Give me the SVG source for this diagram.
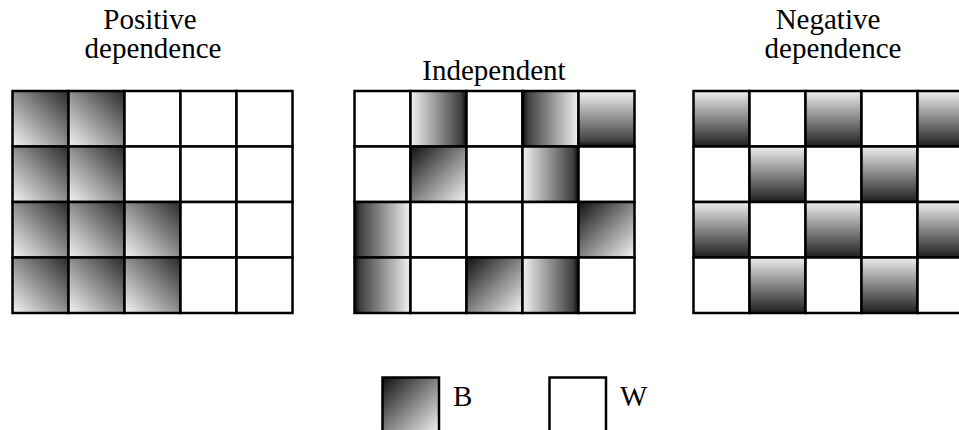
<svg xmlns="http://www.w3.org/2000/svg" width="959" height="430" viewBox="0 0 959 430">
<style>
text{font-family:'Liberation Serif','Times New Roman',Times,serif;font-size:29px;fill:#000}
.c{stroke:#000;stroke-width:2.5}
.w{fill:#fff}
</style>
<defs>
<linearGradient id="gPos" x1="1" y1="0" x2="0" y2="1"><stop offset="0" stop-color="#2a2a2a"/><stop offset="1" stop-color="#f4f4f4"/></linearGradient>
<linearGradient id="gNeg" x1="0" y1="0" x2="0" y2="1"><stop offset="0" stop-color="#eeeeee"/><stop offset="1" stop-color="#1e1e1e"/></linearGradient>
<linearGradient id="gLR" x1="0" y1="0" x2="1" y2="0"><stop offset="0" stop-color="#f2f2f2"/><stop offset="0.9" stop-color="#404040"/><stop offset="1" stop-color="#0a0a0a"/></linearGradient>
<linearGradient id="gRL" x1="0" y1="0" x2="1" y2="0"><stop offset="0" stop-color="#0a0a0a"/><stop offset="0.1" stop-color="#404040"/><stop offset="1" stop-color="#f2f2f2"/></linearGradient>
<linearGradient id="gTB" x1="0" y1="0" x2="0" y2="1"><stop offset="0" stop-color="#f2f2f2"/><stop offset="0.9" stop-color="#404040"/><stop offset="1" stop-color="#0a0a0a"/></linearGradient>
<linearGradient id="gTL" x1="0" y1="0" x2="1" y2="1"><stop offset="0" stop-color="#111111"/><stop offset="1" stop-color="#f4f4f4"/></linearGradient>
</defs>

<g id="title-positive">
<text font-family="Liberation Serif, serif" x="150" y="29" text-anchor="middle">Positive</text>
<text font-family="Liberation Serif, serif" x="153" y="58" text-anchor="middle">dependence</text>
</g>
<g id="title-independent">
<text font-family="Liberation Serif, serif" x="494" y="80" text-anchor="middle">Independent</text>
</g>
<g id="title-negative">
<text font-family="Liberation Serif, serif" x="828" y="29" text-anchor="middle">Negative</text>
<text font-family="Liberation Serif, serif" x="833" y="58" text-anchor="middle">dependence</text>
</g>

<g id="grid-positive" class="c">
<rect x="12.5" y="91" width="56" height="55.5" fill="url(#gPos)"/>
<rect x="68.5" y="91" width="56" height="55.5" fill="url(#gPos)"/>
<rect x="124.5" y="91" width="56" height="55.5" class="w"/>
<rect x="180.5" y="91" width="56" height="55.5" class="w"/>
<rect x="236.5" y="91" width="56" height="55.5" class="w"/>
<rect x="12.5" y="146.5" width="56" height="55.5" fill="url(#gPos)"/>
<rect x="68.5" y="146.5" width="56" height="55.5" fill="url(#gPos)"/>
<rect x="124.5" y="146.5" width="56" height="55.5" class="w"/>
<rect x="180.5" y="146.5" width="56" height="55.5" class="w"/>
<rect x="236.5" y="146.5" width="56" height="55.5" class="w"/>
<rect x="12.5" y="202" width="56" height="55.5" fill="url(#gPos)"/>
<rect x="68.5" y="202" width="56" height="55.5" fill="url(#gPos)"/>
<rect x="124.5" y="202" width="56" height="55.5" fill="url(#gPos)"/>
<rect x="180.5" y="202" width="56" height="55.5" class="w"/>
<rect x="236.5" y="202" width="56" height="55.5" class="w"/>
<rect x="12.5" y="257.5" width="56" height="55.5" fill="url(#gPos)"/>
<rect x="68.5" y="257.5" width="56" height="55.5" fill="url(#gPos)"/>
<rect x="124.5" y="257.5" width="56" height="55.5" fill="url(#gPos)"/>
<rect x="180.5" y="257.5" width="56" height="55.5" class="w"/>
<rect x="236.5" y="257.5" width="56" height="55.5" class="w"/>
</g>

<g id="grid-independent" class="c">
<rect x="354.5" y="91" width="56" height="55.5" class="w"/>
<rect x="410.5" y="91" width="56" height="55.5" fill="url(#gLR)"/>
<rect x="466.5" y="91" width="56" height="55.5" class="w"/>
<rect x="522.5" y="91" width="56" height="55.5" fill="url(#gRL)"/>
<rect x="578.5" y="91" width="56" height="55.5" fill="url(#gTB)"/>
<rect x="354.5" y="146.5" width="56" height="55.5" class="w"/>
<rect x="410.5" y="146.5" width="56" height="55.5" fill="url(#gTL)"/>
<rect x="466.5" y="146.5" width="56" height="55.5" class="w"/>
<rect x="522.5" y="146.5" width="56" height="55.5" fill="url(#gLR)"/>
<rect x="578.5" y="146.5" width="56" height="55.5" class="w"/>
<rect x="354.5" y="202" width="56" height="55.5" fill="url(#gRL)"/>
<rect x="410.5" y="202" width="56" height="55.5" class="w"/>
<rect x="466.5" y="202" width="56" height="55.5" class="w"/>
<rect x="522.5" y="202" width="56" height="55.5" class="w"/>
<rect x="578.5" y="202" width="56" height="55.5" fill="url(#gTL)"/>
<rect x="354.5" y="257.5" width="56" height="55.5" fill="url(#gRL)"/>
<rect x="410.5" y="257.5" width="56" height="55.5" class="w"/>
<rect x="466.5" y="257.5" width="56" height="55.5" fill="url(#gTL)"/>
<rect x="522.5" y="257.5" width="56" height="55.5" fill="url(#gLR)"/>
<rect x="578.5" y="257.5" width="56" height="55.5" class="w"/>
</g>

<g id="grid-negative" class="c">
<rect x="693.5" y="91" width="56" height="55.5" fill="url(#gNeg)"/>
<rect x="749.5" y="91" width="56" height="55.5" class="w"/>
<rect x="805.5" y="91" width="56" height="55.5" fill="url(#gNeg)"/>
<rect x="861.5" y="91" width="56" height="55.5" class="w"/>
<rect x="917.5" y="91" width="56" height="55.5" fill="url(#gNeg)"/>
<rect x="693.5" y="146.5" width="56" height="55.5" class="w"/>
<rect x="749.5" y="146.5" width="56" height="55.5" fill="url(#gNeg)"/>
<rect x="805.5" y="146.5" width="56" height="55.5" class="w"/>
<rect x="861.5" y="146.5" width="56" height="55.5" fill="url(#gNeg)"/>
<rect x="917.5" y="146.5" width="56" height="55.5" class="w"/>
<rect x="693.5" y="202" width="56" height="55.5" fill="url(#gNeg)"/>
<rect x="749.5" y="202" width="56" height="55.5" class="w"/>
<rect x="805.5" y="202" width="56" height="55.5" fill="url(#gNeg)"/>
<rect x="861.5" y="202" width="56" height="55.5" class="w"/>
<rect x="917.5" y="202" width="56" height="55.5" fill="url(#gNeg)"/>
<rect x="693.5" y="257.5" width="56" height="55.5" class="w"/>
<rect x="749.5" y="257.5" width="56" height="55.5" fill="url(#gNeg)"/>
<rect x="805.5" y="257.5" width="56" height="55.5" class="w"/>
<rect x="861.5" y="257.5" width="56" height="55.5" fill="url(#gNeg)"/>
<rect x="917.5" y="257.5" width="56" height="55.5" class="w"/>
</g>

<g id="legend-b">
<rect class="c" x="382.5" y="377.5" width="56.5" height="56" fill="url(#gTL)"/>
<text font-family="Liberation Serif, serif" x="453" y="406">B</text>
</g>
<g id="legend-w">
<rect class="c w" x="549.5" y="377.5" width="56.5" height="56"/>
<text font-family="Liberation Serif, serif" x="620" y="406">W</text>
</g>
</svg>
